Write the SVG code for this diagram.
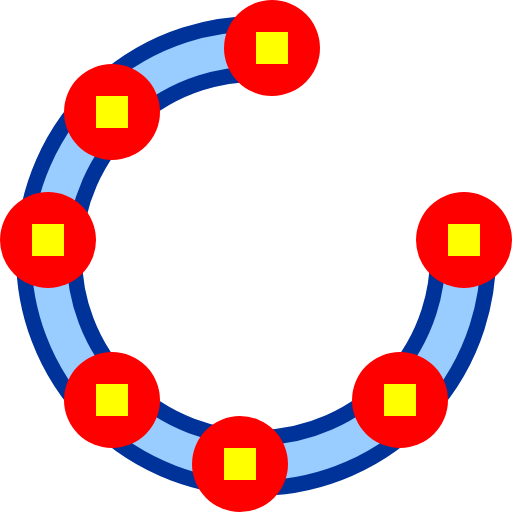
<svg xmlns="http://www.w3.org/2000/svg" width="512" height="512" viewBox="0 0 512 512">
<style>
.outer{fill:none;stroke:#003399;stroke-width:66}
.inner{fill:none;stroke:#99CCFF;stroke-width:35}
.dot{fill:#FF0000}
.sq{fill:#FFFF00}
</style>
<defs>
<g id="node"><circle class="dot" cx="0" cy="0" r="48"/><rect class="sq" x="-16" y="-16" width="32" height="32"/></g>
</defs>
<rect width="512" height="512" fill="#ffffff"/>
<g id="connectors">
<path class="outer" d="M271.9 49.6 A207 207 0 1 0 462.4 240.1"/>
<path class="inner" d="M271.9 49.6 A207 207 0 1 0 462.4 240.1"/>
</g>
<g id="n1"><use href="#node" x="272" y="48"/></g>
<g id="n2"><use href="#node" x="112" y="112"/></g>
<g id="n3"><use href="#node" x="48" y="240"/></g>
<g id="n4"><use href="#node" x="112" y="400"/></g>
<g id="n5"><use href="#node" x="240" y="464"/></g>
<g id="n6"><use href="#node" x="400" y="400"/></g>
<g id="n7"><use href="#node" x="464" y="240"/></g>
</svg>
